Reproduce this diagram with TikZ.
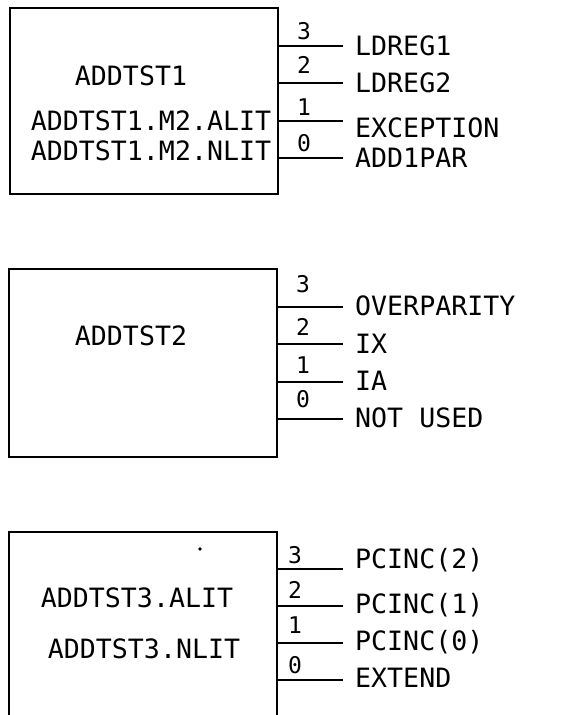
\documentclass[tikz,border=0pt]{standalone}
\usepackage{fontspec}
\setmainfont{DejaVu Sans Mono}
\begin{document}
\begin{tikzpicture}[x=1pt,y=-1pt,
  boxline/.style={line width=1.4pt},
  pinline/.style={line width=1.4pt},
  bigtxt/.style={inner sep=0pt,anchor=base,font=\fontsize{26.6}{30}\selectfont},
  sigtxt/.style={inner sep=0pt,anchor=base west,font=\fontsize{26.6}{30}\selectfont},
  numtxt/.style={inner sep=0pt,anchor=base,font=\fontsize{23}{26}\selectfont}]
\useasboundingbox (0,0) rectangle (571,715);
% ---------- box 1
\coordinate (b1tl) at (10,8);
\coordinate (b1br) at (278,194);
\draw[boxline] (b1tl) rectangle (b1br);
\node[bigtxt] (t1a) at (131,85) {ADDTST1};
\node[bigtxt] (t1b) at (151,130) {ADDTST1.M2.ALIT};
\node[bigtxt] (t1c) at (151,160) {ADDTST1.M2.NLIT};
\foreach \i/\y/\ny/\lab/\ly in {3/46/39/LDREG1/55, 2/83/73/LDREG2/92, 1/121/115/EXCEPTION/137, 0/158/151/ADD1PAR/167}{
  \coordinate (b1s\i) at (278,\y);
  \coordinate (b1e\i) at (343,\y);
  \draw[pinline] (b1s\i) -- (b1e\i);
  \node[numtxt] (b1n\i) at (304,\ny) {\i};
  \node[sigtxt] (b1l\i) at (355,\ly) {\lab};
}
% ---------- box 2
\coordinate (b2tl) at (9,269);
\coordinate (b2br) at (277,457);
\draw[boxline] (b2tl) rectangle (b2br);
\node[bigtxt] (t2a) at (131,345) {ADDTST2};
\foreach \i/\y/\ny/\lab/\ly in {3/307/292/OVERPARITY/315, 2/344/335/IX/353, 1/382/373/IA/390, 0/419/407/NOT USED/427}{
  \coordinate (b2s\i) at (277,\y);
  \coordinate (b2e\i) at (343,\y);
  \draw[pinline] (b2s\i) -- (b2e\i);
  \node[numtxt] (b2n\i) at (303,\ny) {\i};
  \node[sigtxt] (b2l\i) at (355,\ly) {\lab};
}
% ---------- box 3 (continues below the page)
\coordinate (b3bl) at (9,716);
\coordinate (b3tl) at (9,532);
\coordinate (b3tr) at (277,532);
\coordinate (b3br) at (277,716);
\draw[boxline] (b3bl) -- (b3tl) -- (b3tr) -- (b3br);
\node[bigtxt] (t3a) at (137,607) {ADDTST3.ALIT};
\node[bigtxt] (t3b) at (144,658) {ADDTST3.NLIT};
\fill (200,549) circle (1.8pt);
\foreach \i/\y/\ny/\lab/\ly in {3/569/563/PCINC(2)/568, 2/606/598/PCINC(1)/613, 1/643/633/PCINC(0)/650, 0/680/673/EXTEND/687}{
  \coordinate (b3s\i) at (277,\y);
  \coordinate (b3e\i) at (343,\y);
  \draw[pinline] (b3s\i) -- (b3e\i);
  \node[numtxt] (b3n\i) at (295,\ny) {\i};
  \node[sigtxt] (b3l\i) at (355,\ly) {\lab};
}
\end{tikzpicture}
\end{document}
